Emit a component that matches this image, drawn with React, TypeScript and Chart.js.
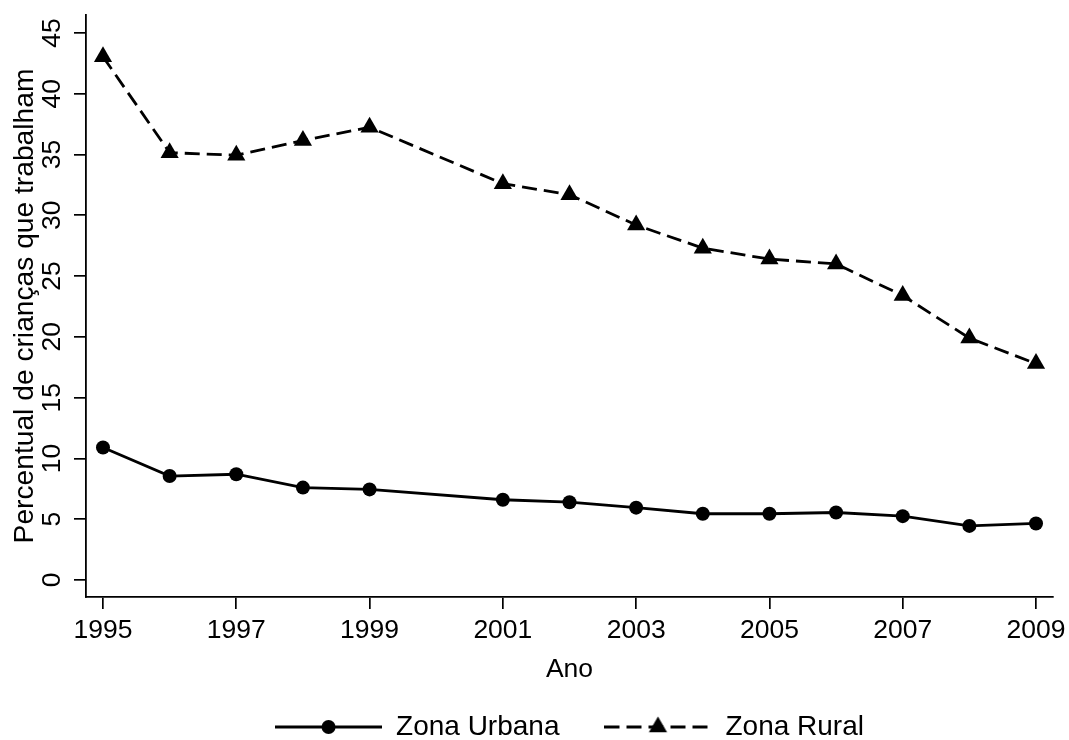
import React, { useEffect, useRef } from 'react';
import { Chart, registerables } from 'chart.js';

Chart.register(...registerables);

const years = [1995, 1996, 1997, 1998, 1999, 2001, 2002, 2003, 2004, 2005, 2006, 2007, 2008, 2009];
const urbana = [10.9, 8.55, 8.7, 7.6, 7.45, 6.6, 6.4, 5.95, 5.45, 5.45, 5.55, 5.25, 4.45, 4.65];
const rural = [43.05, 35.15, 34.95, 36.15, 37.25, 32.6, 31.7, 29.2, 27.3, 26.4, 26.0, 23.4, 19.9, 17.8];
const xTicks = [1995, 1997, 1999, 2001, 2003, 2005, 2007, 2009];
const yTicks = [0, 5, 10, 15, 20, 25, 30, 35, 40, 45];
const seriesLabels = ['Zona Urbana', 'Zona Rural'];
const xTitle = 'Ano';
const yTitle = 'Percentual de crianças que trabalham';

const FONT = "'Liberation Sans', Arial, Helvetica, sans-serif";

function makeSample(dashed: boolean, marker: 'circle' | 'triangle'): HTMLCanvasElement {
  const c = document.createElement('canvas');
  c.width = 107;
  c.height = 28;
  const ctx = c.getContext('2d')!;
  ctx.strokeStyle = '#000';
  ctx.fillStyle = '#000';
  ctx.lineWidth = 2.8;
  if (dashed) ctx.setLineDash([15, 7]);
  ctx.beginPath();
  ctx.moveTo(0, 14);
  ctx.lineTo(107, 14);
  ctx.stroke();
  ctx.setLineDash([]);
  ctx.beginPath();
  if (marker === 'circle') {
    ctx.arc(53.5, 14, 7, 0, Math.PI * 2);
  } else {
    const r = 10.5;
    ctx.moveTo(53.5, 14 - r);
    ctx.lineTo(53.5 + r * Math.sin(Math.PI / 3), 14 + r / 2);
    ctx.lineTo(53.5 - r * Math.sin(Math.PI / 3), 14 + r / 2);
    ctx.closePath();
  }
  ctx.fill();
  return c;
}

export default function App() {
  const ref = useRef<HTMLCanvasElement | null>(null);

  useEffect(() => {
    document.body.style.margin = '0';
    const canvas = ref.current;
    if (!canvas) return;
    Chart.defaults.font.family = FONT;
    const samples = [makeSample(false, 'circle'), makeSample(true, 'triangle')];

    const chart = new Chart(canvas, {
      type: 'line',
      data: {
        datasets: [
          {
            label: seriesLabels[0],
            data: years.map((x, i) => ({ x, y: urbana[i] })),
            borderColor: '#000',
            backgroundColor: '#000',
            borderWidth: 2.8,
            pointStyle: 'circle',
            pointRadius: 7,
            pointBackgroundColor: '#000',
            pointBorderWidth: 0,
            tension: 0,
          },
          {
            label: seriesLabels[1],
            data: years.map((x, i) => ({ x, y: rural[i] })),
            borderColor: '#000',
            backgroundColor: '#000',
            borderWidth: 2.8,
            borderDash: [15, 7],
            pointStyle: 'triangle',
            pointRadius: 10.5,
            pointBackgroundColor: '#000',
            pointBorderWidth: 0,
            tension: 0,
          },
        ],
      },
      options: {
        animation: false,
        responsive: false,
        layout: { padding: { left: 0, right: 0, top: 15, bottom: -11 } },
        plugins: {
          tooltip: { enabled: false },
          legend: {
            position: 'bottom',
            align: 'center',
            fullSize: false,
            labels: {
              usePointStyle: true,
              pointStyleWidth: 107,
              padding: 45,
              color: '#000',
              font: { size: 28, family: FONT },
              generateLabels: () =>
                seriesLabels.map((text, i) => ({
                  text,
                  pointStyle: samples[i] as any,
                  fillStyle: '#000',
                  strokeStyle: '#000',
                  fontColor: '#000',
                  lineWidth: 0,
                  hidden: false,
                  datasetIndex: i,
                })),
            },
          },
        },
        scales: {
          x: {
            type: 'linear',
            min: 1994.745,
            max: 2009.255,
            afterBuildTicks: (s: any) => {
              s.ticks = xTicks.map((v) => ({ value: v }));
            },
            afterFit: (s: any) => {
              s.height = 71;
              s.paddingLeft = 0;
              s.paddingRight = 16;
            },
            ticks: {
              autoSkip: false,
              maxRotation: 0,
              minRotation: 0,
              padding: 6,
              color: '#000',
              font: { size: 26.5, family: FONT },
              callback: (v: any) => String(v),
            },
            grid: {
              drawOnChartArea: false,
              drawTicks: true,
              tickLength: 12,
              color: '#000',
              lineWidth: 1.7,
            },
            border: { display: true, color: '#000', width: 1.8 },
            title: {
              display: true,
              text: xTitle,
              color: '#000',
              font: { size: 26.5, family: FONT },
              padding: { top: 0, bottom: -18 },
            },
          },
          y: {
            type: 'linear',
            min: -1.4,
            max: 46.48,
            afterBuildTicks: (s: any) => {
              s.ticks = yTicks.map((v) => ({ value: v }));
            },
            afterFit: (s: any) => {
              s.width = 86;
              s.paddingTop = 0;
              s.paddingBottom = 0;
            },
            ticks: {
              autoSkip: false,
              minRotation: 90,
              maxRotation: 90,
              crossAlign: 'center',
              padding: 6.3,
              color: '#000',
              font: { size: 26.5, family: FONT },
              callback: (v: any) => String(v),
            },
            grid: {
              drawOnChartArea: false,
              drawTicks: true,
              tickLength: 12,
              color: '#000',
              lineWidth: 1.7,
            },
            border: { display: true, color: '#000', width: 1.8 },
            title: {
              display: true,
              text: yTitle,
              color: '#000',
              font: { size: 28.2, family: FONT },
              padding: { top: 8.1, bottom: 0 },
            },
          },
        },
      },
    });
    return () => chart.destroy();
  }, []);

  return (
    <div style={{ width: 1069, height: 740, background: '#fff' }}>
      <canvas ref={ref} width={1069} height={740} style={{ display: 'block' }} />
    </div>
  );
}
